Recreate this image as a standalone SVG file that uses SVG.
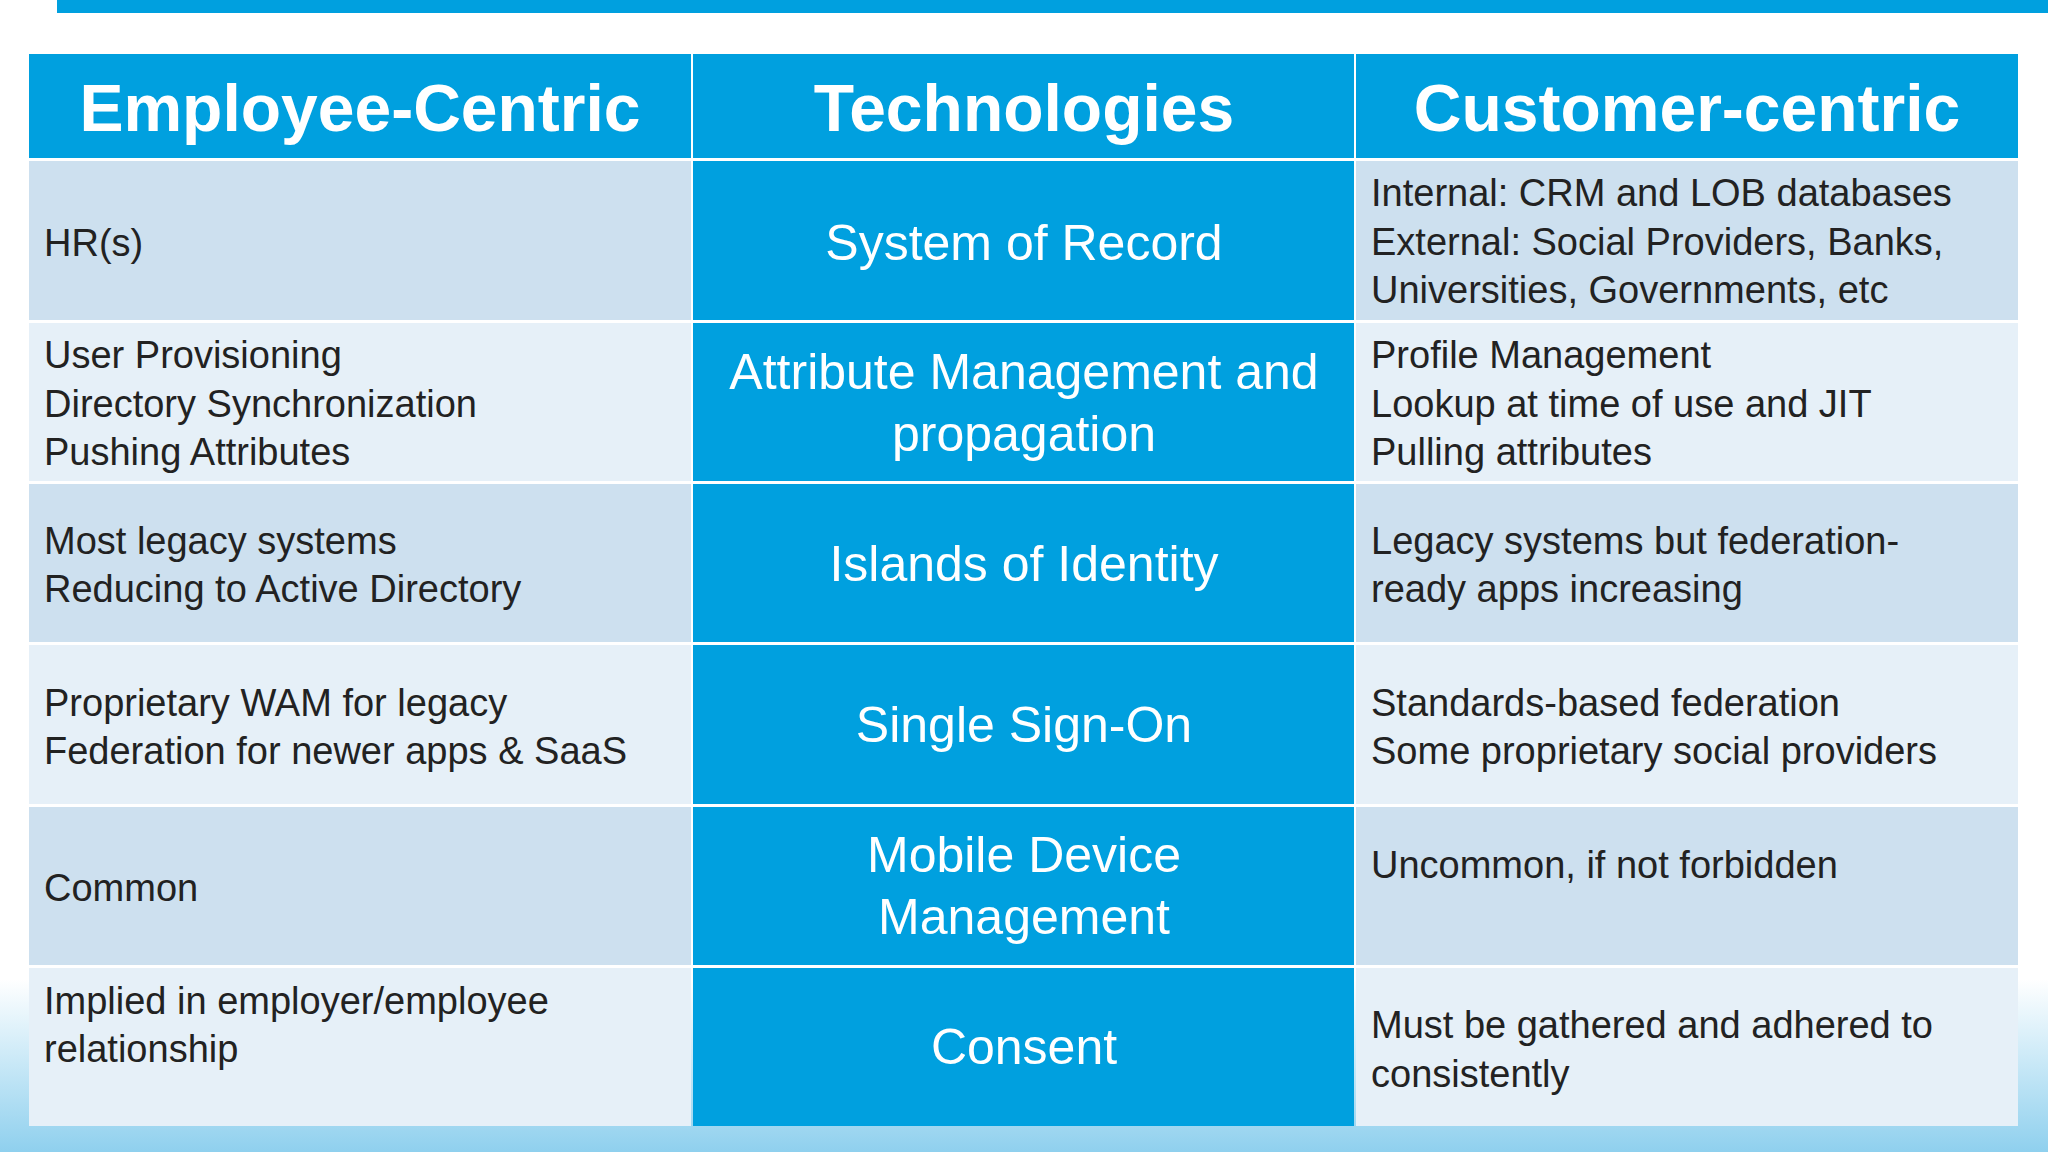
<svg xmlns="http://www.w3.org/2000/svg" width="2048" height="1152" viewBox="0 0 2048 1152">
<defs>
<linearGradient id="bg" x1="0" y1="0" x2="0" y2="1"><stop offset="0.85" stop-color="#ffffff"/><stop offset="1" stop-color="#8fd0ee"/></linearGradient>
<style>
.h{font-family:"Liberation Sans",Arial,sans-serif;font-weight:bold;font-size:66px;fill:#fff;text-anchor:middle}
.m{font-family:"Liberation Sans",Arial,sans-serif;font-size:50px;fill:#fff;text-anchor:middle}
.t{font-family:"Liberation Sans",Arial,sans-serif;font-size:38px;fill:#222}
.b{fill:#00a0df}.d{fill:#cde0ef}.l{fill:#e6f0f8}
</style>
</defs>
<rect width="2048" height="1152" fill="url(#bg)"/>
<rect x="57" y="0" width="1991" height="13" class="b"/>
<g id="header">
<rect x="29" y="54" width="662" height="104" class="b"/>
<rect x="693" y="54" width="661" height="104" class="b"/>
<rect x="1356" y="54" width="662" height="104" class="b"/>
<text x="360" y="131" class="h">Employee-Centric</text>
<text x="1024" y="131" class="h" font-size="74">Technologies</text>
<text x="1687" y="131" class="h">Customer-centric</text>
</g>
<g id="row1">
<rect x="29" y="161" width="662" height="159" class="d"/><rect x="693" y="161" width="661" height="159" class="b"/><rect x="1356" y="161" width="662" height="159" class="d"/>
<text x="44" y="256" class="t">HR(s)</text>
<text x="1024" y="260" class="m">System of Record</text>
<text x="1371" y="206" class="t">Internal: CRM and LOB databases</text>
<text x="1371" y="255" class="t">External: Social Providers, Banks,</text>
<text x="1371" y="303" class="t">Universities, Governments, etc</text>
</g>
<g id="row2">
<rect x="29" y="323" width="662" height="158" class="l"/><rect x="693" y="323" width="661" height="158" class="b"/><rect x="1356" y="323" width="662" height="158" class="l"/>
<text x="44" y="368" class="t">User Provisioning</text><text x="44" y="417" class="t">Directory Synchronization</text><text x="44" y="465" class="t">Pushing Attributes</text>
<text x="1024" y="389" class="m">Attribute Management and</text><text x="1024" y="451" class="m">propagation</text>
<text x="1371" y="368" class="t">Profile Management</text><text x="1371" y="417" class="t">Lookup at time of use and JIT</text><text x="1371" y="465" class="t">Pulling attributes</text>
</g>
<g id="row3">
<rect x="29" y="484" width="662" height="158" class="d"/><rect x="693" y="484" width="661" height="158" class="b"/><rect x="1356" y="484" width="662" height="158" class="d"/>
<text x="44" y="554" class="t">Most legacy systems</text><text x="44" y="602" class="t">Reducing to Active Directory</text>
<text x="1024" y="581" class="m">Islands of Identity</text>
<text x="1371" y="554" class="t">Legacy systems but federation-</text><text x="1371" y="602" class="t">ready apps increasing</text>
</g>
<g id="row4">
<rect x="29" y="645" width="662" height="159" class="l"/><rect x="693" y="645" width="661" height="159" class="b"/><rect x="1356" y="645" width="662" height="159" class="l"/>
<text x="44" y="716" class="t">Proprietary WAM for legacy</text><text x="44" y="764" class="t">Federation for newer apps &amp; SaaS</text>
<text x="1024" y="742" class="m">Single Sign-On</text>
<text x="1371" y="716" class="t">Standards-based federation</text><text x="1371" y="764" class="t">Some proprietary social providers</text>
</g>
<g id="row5">
<rect x="29" y="807" width="662" height="158" class="d"/><rect x="693" y="807" width="661" height="158" class="b"/><rect x="1356" y="807" width="662" height="158" class="d"/>
<text x="44" y="901" class="t">Common</text>
<text x="1024" y="872" class="m">Mobile Device</text><text x="1024" y="934" class="m">Management</text>
<text x="1371" y="878" class="t">Uncommon, if not forbidden</text>
</g>
<g id="row6">
<rect x="29" y="968" width="662" height="158" class="l"/><rect x="693" y="968" width="661" height="158" class="b"/><rect x="1356" y="968" width="662" height="158" class="l"/>
<text x="44" y="1014" class="t">Implied in employer/employee</text><text x="44" y="1062" class="t">relationship</text>
<text x="1024" y="1064" class="m">Consent</text>
<text x="1371" y="1038" class="t">Must be gathered and adhered to</text><text x="1371" y="1087" class="t">consistently</text>
</g>
<g id="connectors"/>
</svg>
